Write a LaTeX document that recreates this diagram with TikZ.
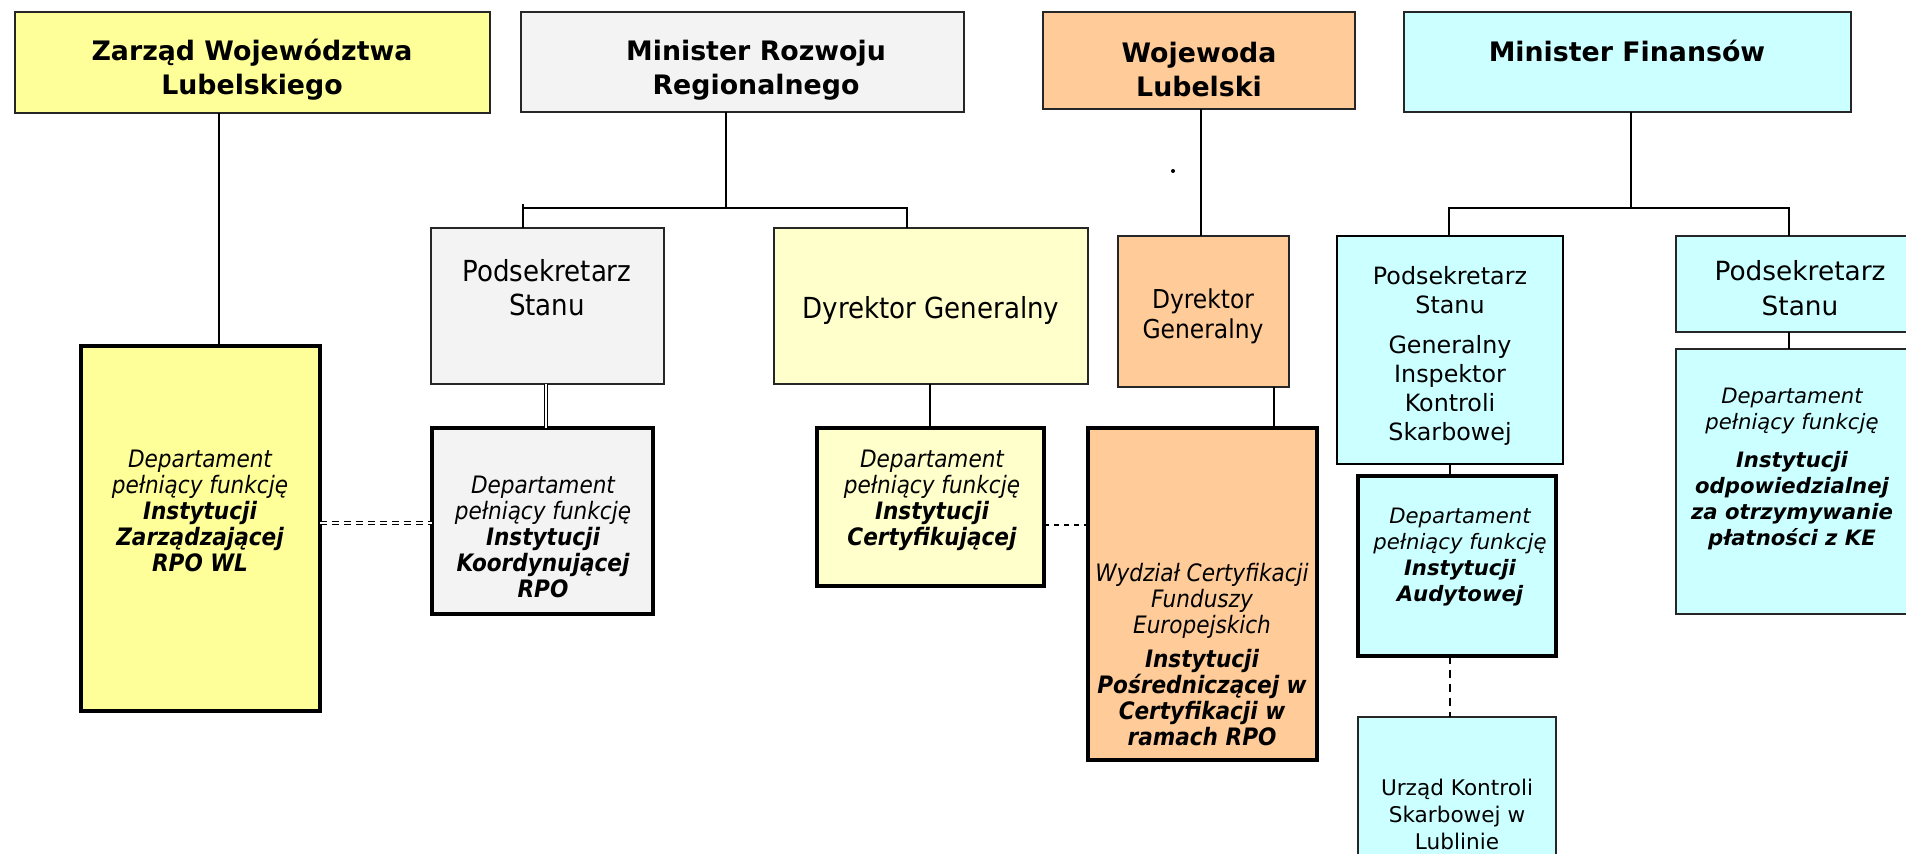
\documentclass[tikz,border=0pt]{standalone}
\usepackage{fontspec}
\setmainfont{DejaVu Sans}
\newfontfamily\cond{DejaVu Sans Condensed}
\usetikzlibrary{calc}
\definecolor{cyell}{HTML}{FFFF99}
\definecolor{clyell}{HTML}{FFFFCC}
\definecolor{cgray}{HTML}{F3F3F3}
\definecolor{corange}{HTML}{FFCC99}
\definecolor{ccyan}{HTML}{CCFFFF}
\newcommand\titlef{\fontsize{13.4}{17}\selectfont\bfseries}
\newcommand\psf{\cond\fontsize{14.5}{17}\selectfont}
\newcommand\deptf{\cond\itshape\fontsize{12}{13}\selectfont}
\newcommand\cyf{\fontsize{11.9}{14.5}\selectfont}
\newcommand\cydf{\itshape\fontsize{10.6}{13}\selectfont}
\newcommand\Bf[1]{{\bfseries #1}}
\newcommand\orgbox[6]{\node[#6, anchor=north west, minimum width={(#4-#2)*0.5pt}, minimum height={(#5-#3)*0.5pt}] (#1) at (#2,#3) {};}
\tikzset{
  thin box/.style={draw=black!85, line width=0.75pt, outer sep=0pt, inner sep=0pt},
  thick box/.style={draw=black, line width=2pt, outer sep=0pt, inner sep=0pt},
  conn/.style={draw=black, line width=0.8pt},
  txt/.style={align=center, inner sep=0pt},
}
\begin{document}
\begin{tikzpicture}[x=0.5pt,y=-0.5pt]
\useasboundingbox (0,0) rectangle (1906,854);
\clip (0,0) rectangle (1906,854);
\fill[white] (0,0) rectangle (1906,854);

% top row
\orgbox{zarz}{15}{12}{490}{113}{thin box, fill=cyell}
\orgbox{mrr}{521}{12}{964}{112}{thin box, fill=cgray}
\orgbox{woj}{1043}{12}{1355}{109}{thin box, fill=corange}
\orgbox{mf}{1404}{12}{1851}{112}{thin box, fill=ccyan}

% second row
\orgbox{ps1}{431}{228}{664}{384}{thin box, fill=cgray}
\orgbox{dg1}{774}{228}{1088}{384}{thin box, fill=clyell}
\orgbox{dg2}{1118}{236}{1289}{387}{thin box, fill=corange}
\orgbox{ps2}{1337}{236}{1563}{464}{thin box, draw=black, line width=1pt, fill=ccyan}
\orgbox{ps3}{1676}{236}{1930}{332}{thin box, fill=ccyan}

% third row
\orgbox{iz}{81}{346}{320}{711}{thick box, fill=cyell}
\orgbox{ik}{432}{428}{653}{614}{thick box, fill=cgray}
\orgbox{ic}{817}{428}{1044}{586}{thick box, fill=clyell}
\orgbox{ipc}{1088}{428}{1317}{760}{thick box, fill=corange}
\orgbox{ia}{1358}{476}{1556}{656}{thick box, fill=ccyan}
\orgbox{d3}{1676}{349}{1930}{614}{thin box, fill=ccyan}
\orgbox{uks}{1358}{717}{1556}{880}{thin box, fill=ccyan}

% connectors
\coordinate (x1) at (219,0);
\draw[conn] (zarz.south -| x1) -- (iz.north -| x1);
\coordinate (j1) at (726,208);
\coordinate (l1) at (523,204);
\coordinate (r1) at (907,208);
\draw[conn] (mrr.south -| j1) -- (j1);
\draw[conn] (ps1.north -| l1) -- (l1);
\draw[conn] (l1 |- j1) -- (r1) -- (dg1.north -| r1);
\coordinate (x2) at (546,0);
\draw[draw=black, line width=0.5pt, double, double distance=0.9pt] (ps1.south -| x2) -- (ik.north -| x2);
\coordinate (x3) at (930,0);
\draw[conn] (dg1.south -| x3) -- (ic.north -| x3);
\coordinate (y1) at (0,523);
\draw[draw=black, line width=0.7pt, double, double distance=1pt, dash pattern=on 3.5pt off 2.5pt] (iz.east |- y1) -- (ik.west |- y1);
\coordinate (y2) at (0,525);
\draw[conn, dash pattern=on 2.5pt off 2.5pt] (ic.east |- y2) -- (ipc.west |- y2);
\coordinate (x6) at (1201,0);
\draw[conn] (woj.south -| x6) -- (dg2.north -| x6);
\fill (1173,171) circle (1pt);
\coordinate (x4) at (1274,0);
\draw[conn] (dg2.south -| x4) -- (ipc.north -| x4);
\coordinate (j2) at (1631,208);
\coordinate (l2) at (1449,208);
\coordinate (r2) at (1789,208);
\draw[conn] (mf.south -| j2) -- (j2);
\draw[conn] (ps2.north -| l2) -- (l2) -- (r2) -- (ps3.north -| r2);
\coordinate (x5) at (1450,0);
\draw[conn] (ps2.south -| x5) -- (ia.north -| x5);
\draw[conn, dash pattern=on 4pt off 3pt] (ia.south -| x5) -- (uks.north -| x5);
\draw[conn] (ps3.south -| r2) -- (d3.north -| r2);

% texts
\node[txt, font=\titlef] (zarz-t) at (252,70) {Zarząd Województwa\\Lubelskiego};
\node[txt, font=\titlef] (mrr-t) at (756,70) {Minister Rozwoju\\Regionalnego};
\node[txt, font=\titlef] (woj-t) at (1199,70) {Wojewoda\\Lubelski};
\node[txt, font=\titlef] (mf-t) at (1627,51) {Minister Finansów};

\node[txt, font=\psf] (ps1-t) at (547,288) {Podsekretarz\\Stanu};
\node[txt, font=\psf] (dg1-t) at (931,311) {Dyrektor Generalny};
\node[txt, font=\cond\fontsize{13}{15}\selectfont] (dg2-t) at (1203,316) {Dyrektor\\Generalny};
\node[txt, font=\cyf] (ps2-t) at (1450,356) {Podsekretarz\\Stanu\\[5.5pt]Generalny\\Inspektor\\Kontroli\\Skarbowej};
\node[txt, font=\fontsize{13.2}{17.5}\selectfont] (ps3-t) at (1800,288) {Podsekretarz\\Stanu};

\node[txt, font=\deptf] (iz-t) at (200,511) {Departament\\pełniący funkcję\\\Bf{Instytucji}\\\Bf{Zarządzającej}\\\Bf{RPO WL}};
\node[txt, font=\deptf] (ik-t) at (543,537) {Departament\\pełniący funkcję\\\Bf{Instytucji}\\\Bf{Koordynującej}\\\Bf{RPO}};
\node[txt, font=\deptf] (ic-t) at (932,500) {Departament\\pełniący funkcję\\\Bf{Instytucji}\\\Bf{Certyfikującej}};
\node[txt, font=\deptf] (ipc-t) at (1202,655) {Wydział Certyfikacji\\Funduszy\\Europejskich\\[4pt]\Bf{Instytucji}\\\Bf{Pośredniczącej w}\\\Bf{Certyfikacji w}\\\Bf{ramach RPO}};
\node[txt, font=\cydf] (ia-t) at (1460,557) {Departament\\pełniący funkcję\\\Bf{Instytucji}\\\Bf{Audytowej}};
\node[txt, font=\cydf] (d3-t) at (1792,469) {Departament\\pełniący funkcję\\[6pt]\Bf{Instytucji}\\\Bf{odpowiedzialnej}\\\Bf{za otrzymywanie}\\\Bf{płatności z KE}};
\node[txt, font=\fontsize{10.8}{13.5}\selectfont] (uks-t) at (1457,814) {Urząd Kontroli\\Skarbowej w\\Lublinie};
\end{tikzpicture}
\end{document}
